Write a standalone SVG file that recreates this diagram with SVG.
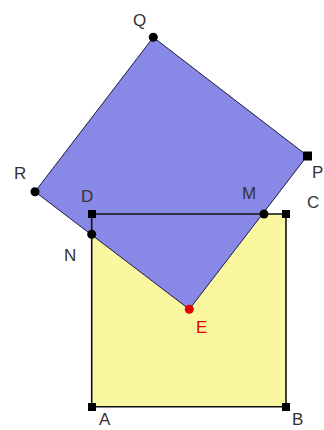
<svg xmlns="http://www.w3.org/2000/svg" width="324" height="430" viewBox="0 0 324 430">
<style>
.lbl{font-family:"Liberation Sans",Arial,sans-serif;font-size:17px;fill:#333}
.sq{fill:#000}
.dot{fill:#000}
</style>
<rect width="324" height="430" fill="#fff"/>
<g id="connectors">
<polygon id="square-ABCD-fill" points="91.7,214 286,214 286,406.7 91.7,406.7" fill="#f9f79f" stroke="none"/>
<polygon id="square-PQRE" points="153.3,37.3 307.3,155.7 189.3,309.3 35,191.7" fill="#8888e6" stroke="#1a1a40" stroke-width="1"/>
<polygon id="square-ABCD" points="91.7,214 286,214 286,406.7 91.7,406.7" fill="none" stroke="#111" stroke-width="1.6"/>
</g>
<g id="node-Q"><circle class="dot" cx="153.3" cy="37.3" r="4.5"/><text class="lbl" x="133" y="26">Q</text></g>
<g id="node-P"><rect class="sq" x="303" y="151.5" width="9" height="9"/><text class="lbl" x="312" y="178">P</text></g>
<g id="node-R"><circle class="dot" cx="35" cy="191.7" r="4.5"/><text class="lbl" x="14" y="179">R</text></g>
<g id="node-D"><rect class="sq" x="88" y="210" width="8" height="8"/><text class="lbl" x="81" y="202">D</text></g>
<g id="node-M"><circle class="dot" cx="264" cy="214" r="4.5"/><text class="lbl" x="242" y="199">M</text></g>
<g id="node-C"><rect class="sq" x="282" y="210" width="8" height="8"/><text class="lbl" x="307" y="208">C</text></g>
<g id="node-N"><circle class="dot" cx="91.7" cy="234.3" r="4.5"/><text class="lbl" x="64" y="261">N</text></g>
<g id="node-E"><circle cx="189.3" cy="309.3" r="4.5" fill="#e00000"/><text class="lbl" x="196" y="333" style="fill:#e00000">E</text></g>
<g id="node-A"><rect class="sq" x="88" y="403" width="8" height="8"/><text class="lbl" x="99" y="425">A</text></g>
<g id="node-B"><rect class="sq" x="282" y="403" width="8" height="8"/><text class="lbl" x="292" y="425">B</text></g>
</svg>
